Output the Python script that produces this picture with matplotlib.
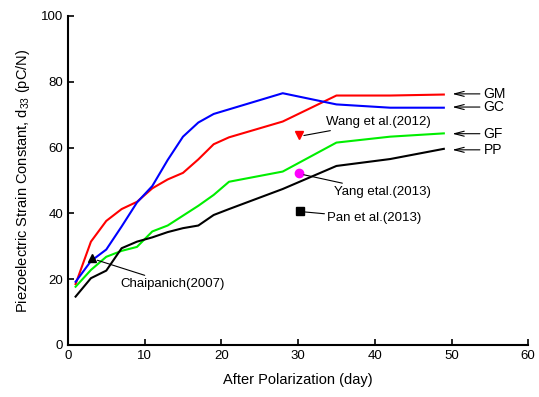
import matplotlib
matplotlib.use('Agg')
import matplotlib.pyplot as plt

plt.rcParams['font.family'] = ['Liberation Sans', 'DejaVu Sans']
plt.rcParams['mathtext.default'] = 'regular'

days = [1, 3, 5, 7, 9, 11, 13, 15, 17, 19, 21, 28, 35, 42, 49]
gm = [18.5, 31.4, 37.7, 41.3, 43.5, 47.6, 50.3, 52.3, 56.4, 61.0, 63.1, 67.9, 75.8, 75.8, 76.1]
gc = [19.2, 25.5, 29.0, 36.0, 43.3, 48.3, 56.2, 63.3, 67.6, 70.2, 71.6, 76.5, 73.1, 72.1, 72.1]
gf = [17.7, 22.8, 26.8, 28.6, 29.8, 34.5, 36.3, 39.3, 42.3, 45.6, 49.6, 52.7, 61.5, 63.3, 64.3]
pp = [14.7, 20.3, 22.6, 29.4, 31.4, 32.7, 34.3, 35.5, 36.3, 39.5, 41.3, 47.4, 54.4, 56.5, 59.6]

series_names = ['GM', 'GC', 'GF', 'PP']
series_label_y = [76.3, 72.3, 64.2, 59.3]

lit_names = ['Chaipanich(2007)', 'Wang et al.(2012)', 'Yang etal.(2013)', 'Pan et al.(2013)']
lit_x = [3.2, 30.1, 30.1, 30.2]
lit_y = [26.3, 63.8, 52.2, 40.8]
lit_text_x = [6.8, 33.6, 34.7, 33.8]
lit_text_y = [18.5, 67.8, 46.5, 38.5]

fig = plt.figure(figsize=(5.39, 3.97), dpi=100)
ax = fig.add_axes([0.126, 0.131, 0.854, 0.829])

ax.plot(days, gm, color='#ff0000', lw=1.5)
ax.plot(days, gc, color='#0000ff', lw=1.5)
ax.plot(days, gf, color='#00ee00', lw=1.5)
ax.plot(days, pp, color='black', lw=1.5)

markers = ['^', 'v', 'o', 's']
mcolors = ['black', '#ff0000', '#ff00ff', 'black']
for i in range(4):
    ax.plot(lit_x[i], lit_y[i], marker=markers[i], color=mcolors[i], ms=6, ls='none')
    ax.annotate(lit_names[i], xy=(lit_x[i] + 0.3, lit_y[i] - 0.3),
                xytext=(lit_text_x[i], lit_text_y[i]), fontsize=9.5,
                va='center', ha='left',
                arrowprops=dict(arrowstyle='-', color='black', lw=0.8,
                                shrinkA=0, shrinkB=2))

for name, yv in zip(series_names, series_label_y):
    ax.annotate('', xy=(50.1, yv), xytext=(53.7, yv),
                arrowprops=dict(arrowstyle='->,head_length=0.7,head_width=0.18',
                                color='black', lw=0.8, shrinkA=0, shrinkB=0))
    ax.text(54.2, yv, name, fontsize=10, va='center', ha='left')

ax.set_xlim(0, 60)
ax.set_ylim(0, 100)
ax.set_xticks(range(0, 61, 10))
ax.set_yticks(range(0, 101, 20))
ax.tick_params(direction='in', length=4, width=1.2, labelsize=9.5)
for s in ['top', 'right']:
    ax.spines[s].set_visible(False)
for s in ['left', 'bottom']:
    ax.spines[s].set_linewidth(1.5)

ax.set_xlabel('After Polarization (day)', fontsize=10.5, labelpad=8)
ax.set_ylabel('Piezoelectric Strain Constant, d$_{33}$ (pC/N)', fontsize=10.5, labelpad=6)

fig.savefig('out.png', dpi=100)
